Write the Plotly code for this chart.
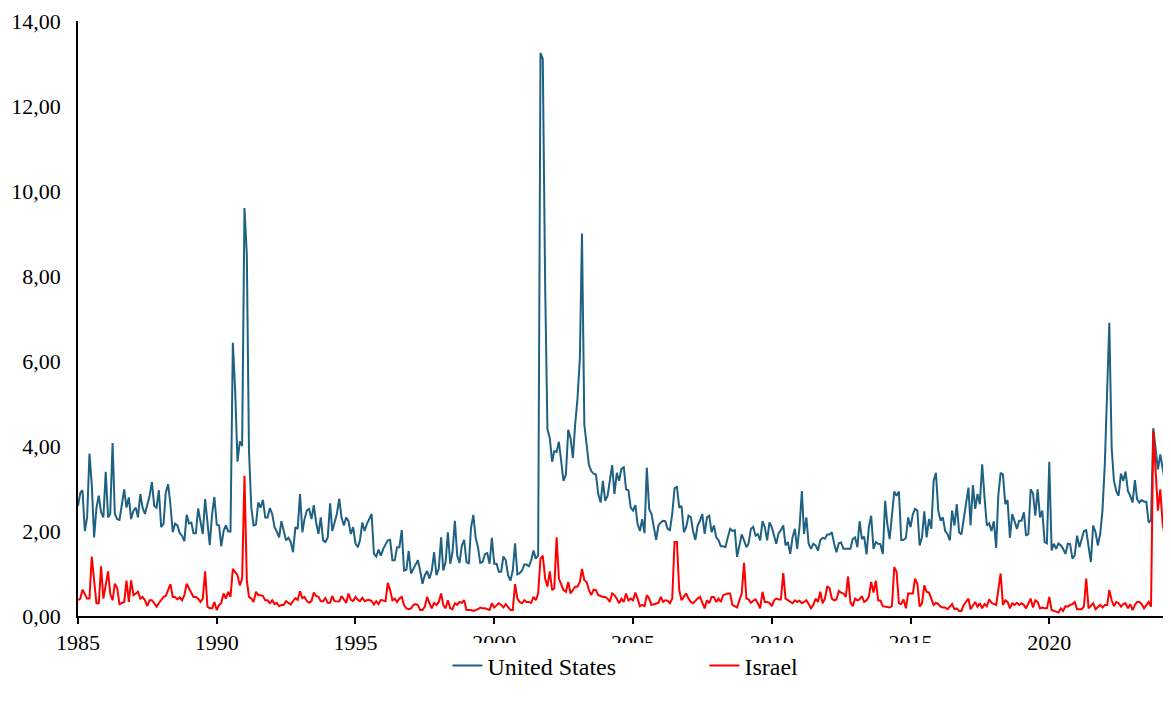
import pandas as pd
import plotly.graph_objects as go

start_month = "1985-01-01"

# United States (monthly values, Jan 1985 onward), split by period
us_1985_1988 = [2.59,2.9,2.96,2.0,2.32,3.82,3.1,1.85,2.55,2.83,2.44,2.32,3.39,2.32,2.4,4.07,2.4,2.28,2.26,2.63,2.98,2.55,2.79,2.28,2.48,2.55,2.32,2.87,2.55,2.4,2.63,2.83,3.15,2.59,2.55,2.96,2.09,2.17,2.9,3.1,2.63,1.97,2.17,2.13,1.95]
us_1988_1992 = [1.89,1.76,2.38,2.18,2.2,1.95,1.95,2.53,2.2,1.93,2.75,2.17,1.67,2.4,2.8,2.15,2.13,1.64,2.0,2.13,1.99,1.99,6.43,5.28,3.63,4.11,4.0,9.6,8.5,3.9,2.55,2.13,2.15,2.67,2.55,2.73,2.32,2.32,2.54,2.4,2.09,1.99,1.85,2.23,2.0]
us_1992_1996 = [1.78,1.84,1.74,1.5,2.09,2.05,2.87,1.97,2.28,2.48,2.52,2.28,2.61,2.2,1.93,2.32,1.78,1.74,1.85,2.65,2.0,2.2,2.4,2.76,2.32,2.13,2.32,2.23,1.93,2.09,1.7,1.62,1.78,2.2,2.0,2.17,2.28,2.4,1.46,1.4,1.56,1.42,1.58,1.7,1.78]
us_1996_2000 = [1.79,1.31,1.31,1.62,1.62,2.02,1.07,1.09,1.53,1.0,1.11,1.19,1.31,1.07,0.76,0.96,1.06,0.88,1.07,1.5,0.96,1.11,1.85,1.07,1.27,1.97,1.23,1.5,2.24,1.42,1.25,1.66,1.79,1.27,1.23,2.07,2.38,1.85,1.62,1.25,1.27,1.46,1.48,1.23,1.84,1.23]
us_2000_2003 = [1.23,1.04,1.04,1.4,1.31,0.96,0.83,1.07,1.71,0.98,1.01,1.07,1.21,1.21,1.17,1.31,1.54,1.35,1.42,13.25,13.1,7.8,4.4,4.19,3.63,3.88,3.86,4.1,3.55,3.18,3.33,4.38,4.19,3.72,4.5,5.12,6.06,9.0,4.5,4.0,3.55,3.41,3.35]
us_2003_2007 = [3.33,2.87,2.67,3.18,2.71,2.83,3.18,3.55,2.87,3.37,3.18,3.46,3.5,2.98,2.96,2.55,2.48,2.61,2.17,2.0,2.28,1.95,3.49,2.52,2.4,2.09,1.79,2.13,2.2,2.24,2.23,2.05,2.02,2.4,3.0,3.05,2.55,2.59,1.97,2.09,2.36,2.32,2.0,1.79,2.13,2.24,2.4,1.93]
us_2007_2011 = [2.32,2.36,1.97,2.13,1.85,1.78,1.64,1.64,1.62,1.85,2.05,2.0,2.02,1.39,1.7,1.92,1.78,1.62,1.7,2.05,2.1,1.89,1.93,1.78,2.23,2.09,1.78,2.2,2.09,1.85,1.7,1.95,2.02,2.13,1.66,1.74,1.46,1.85,2.05,1.58,2.09]
us_2011_2015 = [2.94,1.93,2.32,1.7,1.58,1.7,1.66,1.54,1.78,1.84,1.82,1.92,1.92,1.97,1.7,1.5,1.71,1.73,1.58,1.58,1.58,1.58,1.81,1.85,1.62,2.23,1.81,1.87,1.45,2.09,2.36,1.58,1.74,1.7,1.69,1.46,2.71,2.17,1.81,2.32,2.93,2.83,2.93,1.79,1.79,1.84,2.32]
us_2015_2018 = [2.09,2.4,2.52,2.48,1.66,1.85,2.46,1.85,2.28,2.05,3.18,3.37,2.48,2.24,2.32,2.0,1.93,1.78,2.48,2.13,2.63,1.97,1.92,2.32,2.63,3.02,2.13,3.08,2.52,2.87,2.63,3.57,2.79,2.13,2.18,2.0,2.23,1.6,2.83,3.37,3.33,2.63,2.73,1.84,2.4]
us_2018_2022 = [2.2,2.05,2.24,2.24,2.44,1.89,1.93,2.98,2.88,2.36,2.98,2.32,2.48,1.74,1.71,3.63,1.54,1.7,1.58,1.71,1.66,1.58,1.46,1.7,1.69,1.35,1.43,1.89,1.62,1.81,2.0,2.02,1.66,1.27,2.13,1.97,1.66,1.93,2.48,3.57,5.32,6.9,3.96,3.18,2.94]
us_2022_2024 = [2.83,3.35,3.18,3.4,2.94,2.83,2.67,3.2,2.75,2.67,2.73,2.69,2.69,2.2,2.25,4.42,3.88,3.45,3.8,3.5,3.18,4.0,2.95]

# Israel (monthly values, Jan 1985 onward), split by period
il_1985_1988 = [0.37,0.41,0.62,0.53,0.41,0.41,1.4,0.84,0.3,0.3,1.17,0.41,0.69,1.05,0.53,0.37,0.76,0.65,0.28,0.3,0.33,0.83,0.33,0.84,0.49,0.53,0.57,0.41,0.45,0.37,0.23,0.37,0.37,0.3,0.22,0.3,0.39,0.45,0.47,0.61,0.75,0.45,0.45,0.39,0.44]
il_1988_1992 = [0.37,0.49,0.76,0.65,0.53,0.45,0.45,0.41,0.33,0.41,1.05,0.22,0.18,0.18,0.33,0.14,0.26,0.3,0.53,0.41,0.57,0.45,1.11,1.04,0.96,0.72,0.88,3.3,0.84,0.45,0.41,0.33,0.57,0.49,0.49,0.47,0.37,0.37,0.3,0.37,0.28,0.31,0.23,0.26,0.26]
il_1992_1996 = [0.35,0.3,0.27,0.35,0.42,0.38,0.58,0.42,0.45,0.35,0.31,0.35,0.55,0.47,0.45,0.35,0.35,0.42,0.31,0.31,0.47,0.35,0.35,0.34,0.47,0.38,0.31,0.53,0.38,0.35,0.45,0.38,0.35,0.43,0.35,0.37,0.38,0.35,0.27,0.35,0.28,0.38,0.36,0.35,0.78]
il_1996_2000 = [0.61,0.37,0.41,0.33,0.41,0.45,0.26,0.18,0.16,0.18,0.26,0.28,0.26,0.14,0.14,0.22,0.45,0.3,0.18,0.31,0.26,0.33,0.53,0.26,0.18,0.37,0.18,0.16,0.3,0.26,0.33,0.31,0.37,0.14,0.14,0.14,0.12,0.14,0.16,0.2,0.18,0.18,0.16,0.14,0.3,0.2]
il_2000_2003 = [0.25,0.3,0.26,0.2,0.28,0.22,0.14,0.14,0.75,0.41,0.33,0.3,0.37,0.33,0.33,0.31,0.45,0.37,0.53,1.35,1.42,0.88,0.69,1.05,0.61,0.65,1.85,0.88,0.76,0.61,0.57,0.8,0.53,0.62,0.69,0.69,0.8,1.11,0.84,0.8,0.61,0.49,0.62]
il_2003_2007 = [0.61,0.49,0.47,0.45,0.45,0.41,0.33,0.53,0.49,0.41,0.3,0.41,0.33,0.53,0.37,0.41,0.37,0.55,0.41,0.23,0.26,0.23,0.49,0.41,0.26,0.28,0.3,0.31,0.45,0.33,0.37,0.36,0.3,0.41,1.74,1.74,0.61,0.37,0.45,0.53,0.41,0.33,0.3,0.37,0.41,0.45,0.3,0.18]
il_2007_2011 = [0.37,0.3,0.45,0.45,0.33,0.41,0.33,0.49,0.51,0.53,0.53,0.26,0.23,0.2,0.37,0.53,1.25,0.41,0.39,0.31,0.36,0.39,0.3,0.18,0.57,0.33,0.33,0.31,0.23,0.37,0.41,0.39,0.39,1.01,0.41,0.37,0.33,0.3,0.37,0.33,0.36]
il_2011_2015 = [0.3,0.33,0.37,0.28,0.18,0.26,0.41,0.33,0.57,0.3,0.41,0.7,0.65,0.41,0.37,0.39,0.59,0.55,0.53,0.45,0.93,0.33,0.23,0.41,0.37,0.39,0.47,0.33,0.37,0.45,0.8,0.55,0.83,0.37,0.36,0.23,0.22,0.22,0.2,0.23,1.15,1.04,0.3,0.28,0.39,0.18,0.53]
il_2015_2018 = [0.53,0.53,0.88,0.76,0.22,0.3,0.72,0.57,0.55,0.41,0.26,0.31,0.28,0.22,0.2,0.2,0.16,0.22,0.28,0.16,0.18,0.12,0.12,0.26,0.33,0.41,0.16,0.26,0.33,0.22,0.3,0.18,0.28,0.23,0.39,0.31,0.28,0.26,0.61,1.0,0.26,0.37,0.33,0.18,0.3]
il_2018_2022 = [0.26,0.31,0.26,0.3,0.26,0.18,0.3,0.41,0.2,0.37,0.33,0.18,0.2,0.18,0.18,0.45,0.14,0.12,0.1,0.08,0.18,0.12,0.23,0.22,0.26,0.28,0.33,0.16,0.16,0.16,0.22,0.88,0.18,0.23,0.3,0.16,0.22,0.26,0.2,0.26,0.26,0.61,0.37,0.23,0.33]
il_2022_2024 = [0.3,0.22,0.28,0.3,0.18,0.28,0.14,0.26,0.33,0.33,0.28,0.18,0.26,0.33,0.22,4.35,3.41,2.48,2.98,2.17,1.89,2.95,1.65]

tick_years = ["1985", "1990", "1995", "2000", "2005", "2010", "2015", "2020"]

us = (us_1985_1988 + us_1988_1992 + us_1992_1996 + us_1996_2000 + us_2000_2003 + us_2003_2007
      + us_2007_2011 + us_2011_2015 + us_2015_2018 + us_2018_2022 + us_2022_2024)
il = (il_1985_1988 + il_1988_1992 + il_1992_1996 + il_1996_2000 + il_2000_2003 + il_2003_2007
      + il_2007_2011 + il_2011_2015 + il_2015_2018 + il_2018_2022 + il_2022_2024)
dates = pd.date_range(start_month, periods=len(us), freq="MS")

fig = go.Figure()
fig.add_trace(go.Scatter(x=dates, y=us, mode="lines", name="United States",
                         line=dict(color="#1f6183", width=2)))
fig.add_trace(go.Scatter(x=dates, y=il, mode="lines", name="Israel",
                         line=dict(color="#ff0000", width=2)))

serif = "Liberation Serif, Times New Roman, serif"
x_tick_font = dict(family=serif, size=22, color="black")
y_tick_font = dict(family=serif, size=22, color="black")
legend_font = dict(family=serif, size=24, color="black")
fig.update_layout(
    width=1171, height=704,
    margin=dict(l=70, r=8, t=13, b=96, autoexpand=False),
    paper_bgcolor="white", plot_bgcolor="white",
    font=x_tick_font,
    separators=",.",
    showlegend=True,
    legend=dict(orientation="h", x=0.338, xanchor="left", y=-0.084, yanchor="middle",
                font=legend_font, entrywidth=212),
)
fig.update_xaxes(
    type="date", automargin=False,
    range=[dates[0], dates[-1] + pd.Timedelta(days=20)],
    tickvals=[pd.Timestamp(y + "-01-01") for y in tick_years],
    ticktext=tick_years,
    showgrid=False, zeroline=False,
    showline=True, linecolor="black", linewidth=2,
    ticks="outside", ticklen=6, tickcolor="black", tickwidth=1.5,
    tickfont=x_tick_font,
)
fig.update_yaxes(
    range=[0, 14], dtick=2, tickformat=".2f", automargin=False,
    showgrid=False, zeroline=False,
    showline=True, linecolor="black", linewidth=1.5,
    ticks="", tickfont=y_tick_font, ticklabelstandoff=11,
    ticklabeloverflow="allow",
)

fig.write_html("out.html")
